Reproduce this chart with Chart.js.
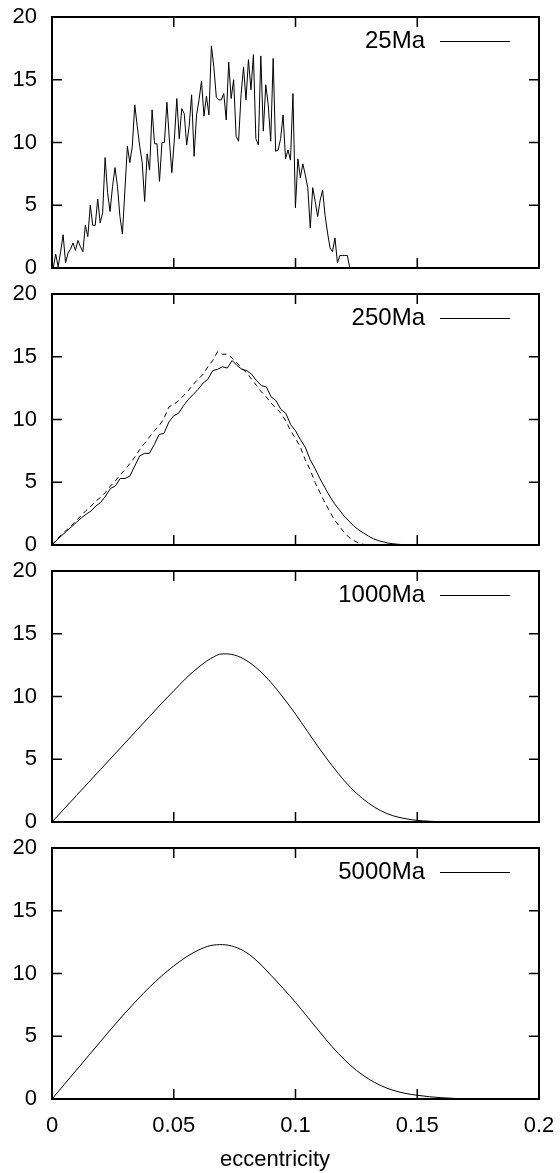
<!DOCTYPE html>
<html>
<head>
<meta charset="utf-8">
<script src="https://cdn.jsdelivr.net/npm/chart.js@4.4.0/dist/chart.umd.min.js"></script>
<style>
  body { margin: 0; background: #fff; }
  #wrap { position: relative; width: 560px; height: 1173px; }
  #wrap canvas { position: absolute; left: 0; }
</style>
</head>
<body>
<div id="wrap">
  <canvas id="p25" width="560" height="279" style="top:3px"></canvas>
  <canvas id="p250" width="560" height="279" style="top:280px"></canvas>
  <canvas id="p1000" width="560" height="279" style="top:557px"></canvas>
  <canvas id="p5000" width="560" height="339" style="top:834px"></canvas>
</div>
<script>
const ageLabels = ['25Ma', '250Ma', '1000Ma', '5000Ma'];
const xTitle = 'eccentricity';
const xTicks = [0, 0.05, 0.1, 0.15, 0.2];
const yTicks = [0, 5, 10, 15, 20];

// 25 Ma histogram (fine bins)
const bin25Start = 0.0005;
const bin25Width = 0.001015;
const counts25 = [
  0, 1.1, 0.1, 1.3, 2.65, 0.4, 1.2, 1.5, 2.0, 1.4,
  2.2, 1.7, 1.3, 3.4, 2.5, 5.0, 3.4, 3.4, 5.5, 3.6,
  4.4, 8.8, 6.0, 4.5, 6.5, 8.0, 6.5, 4.1, 2.7, 6.2,
  9.7, 8.4, 9.7, 13.0, 11.3, 9.7, 8.4, 5.3, 9.1, 7.8,
  12.6, 9.9, 9.9, 6.9, 10.0, 10.0, 13.2, 10.2, 7.6, 10.2,
  13.5, 10.3, 12.7, 12.3, 9.8, 11.3, 13.8, 8.9, 12.2, 13.4,
  14.9, 12.1, 13.7, 12.2, 17.7, 16.0, 13.6, 13.4, 13.4, 13.9,
  11.8, 16.4, 13.5, 15.0, 10.5, 10.1, 13.8, 16.0, 13.4, 16.6,
  14.2, 17.0, 10.3, 9.8, 16.9, 10.9, 14.6, 13.0, 10.1, 16.7,
  9.3, 9.4, 10.3, 12.2, 8.7, 9.4, 8.6, 13.9, 4.8, 8.7,
  7.2, 8.3, 7.4, 6.4, 3.2, 6.4, 5.3, 4.1, 5.4, 6.2,
  4.2, 2.8, 1.6, 1.3, 2.4, 0.4, 1.0, 1.0, 1.0, 1.0,
  0
];

// 250 Ma: simulation (solid) and model (dashed)
const bin250Width = 0.002;
const counts250 = [
  0, 0.4, 0.75, 1.1, 1.45, 1.8, 2.15, 2.45, 2.7, 3.1,
  3.4, 3.9, 4.5, 4.7, 5.3, 5.3, 5.5, 6.3, 7.1, 7.3,
  7.3, 8.0, 8.8, 8.9, 9.8, 10.3, 10.5, 11.1, 11.6, 12.0,
  12.4, 12.9, 13.2, 13.9, 14.0, 14.2, 14.1, 14.7, 14.3, 14.0,
  13.9, 13.6, 13.1, 12.7, 12.6, 11.8, 11.5, 10.8, 10.5, 9.6,
  9.1, 8.4, 7.8, 6.8, 6.1, 5.3, 4.6, 3.9, 3.3, 2.8,
  2.3, 1.9, 1.5, 1.2, 0.95, 0.7, 0.5, 0.35, 0.25, 0.15,
  0.1, 0.06, 0.03, 0.02, 0.01, 0
];
const model250 = [
  0, 0.45, 0.85, 1.2, 1.55, 1.95, 2.35, 2.75, 3.1, 3.5,
  3.8, 4.2, 4.7, 5.1, 5.6, 6.0, 6.5, 7.0, 7.6, 8.1,
  8.6, 9.1, 9.5, 10.1, 11.0, 11.2, 11.5, 11.9, 12.3, 12.8,
  13.2, 13.6, 14.2, 14.7, 15.4, 15.2, 15.2, 14.9, 14.5, 14.1,
  13.7, 13.2, 12.7, 12.2, 11.8, 11.3, 10.9, 10.5, 9.9, 9.1,
  8.5, 7.8, 6.8, 6.0, 5.0, 4.2, 3.4, 2.7, 2.0, 1.5,
  1.0, 0.6, 0.35, 0.15, 0.05, 0
];

// 1000 Ma and 5000 Ma (coarser sampling of smooth curves)
const binWidthLate = 0.005;
const counts1000 = [
  0, 1.05, 2.1, 3.15, 4.2, 5.25, 6.3, 7.35, 8.4, 9.45,
  10.45, 11.45, 12.3, 13.0, 13.4, 13.3, 12.85, 12.1, 11.1, 9.9,
  8.6, 7.2, 5.8, 4.5, 3.3, 2.3, 1.5, 0.9, 0.5, 0.27,
  0.13, 0.06, 0.02, 0.01, 0
];
const counts5000 = [
  0, 1.15, 2.3, 3.45, 4.6, 5.75, 6.85, 7.9, 8.9, 9.8,
  10.6, 11.3, 11.85, 12.22, 12.3, 12.12, 11.65, 10.85, 9.85, 8.8,
  7.7, 6.52, 5.33, 4.18, 3.15, 2.28, 1.6, 1.07, 0.7, 0.45,
  0.3, 0.18, 0.1, 0.05, 0
];

const FONT = "'Liberation Sans', Arial, Helvetica, sans-serif";

function toPoints(start, step, values) {
  return values.map((v, i) => ({ x: start + i * step, y: v }));
}

// labels may overhang the plot box, so drop the padding Chart.js reserves for them
function noLabelPadding(s) {
  s.paddingTop = 0;
  s.paddingBottom = 0;
  s.paddingLeft = 0;
  s.paddingRight = 0;
}

// frame, inward ticks, key and x title
const framePlugin = {
  id: 'frame',
  afterDatasetsDraw(chart, args, opts) {
    const { ctx, chartArea: a, scales: { x, y } } = chart;
    ctx.save();
    ctx.strokeStyle = '#000';
    ctx.lineWidth = 1.5;
    ctx.beginPath();
    xTicks.slice(1, -1).forEach(v => {
      const px = x.getPixelForValue(v);
      ctx.moveTo(px, a.bottom); ctx.lineTo(px, a.bottom - 10);
      ctx.moveTo(px, a.top); ctx.lineTo(px, a.top + 10);
    });
    yTicks.slice(1, -1).forEach(v => {
      const py = y.getPixelForValue(v);
      ctx.moveTo(a.left, py); ctx.lineTo(a.left + 10, py);
      ctx.moveTo(a.right, py); ctx.lineTo(a.right - 10, py);
    });
    ctx.stroke();
    ctx.lineWidth = 2;
    ctx.strokeRect(a.left, a.top, a.right - a.left, a.bottom - a.top);

    // key: label + line sample
    const ky = Math.round(a.top + 24) + 0.5;
    ctx.fillStyle = '#000';
    ctx.font = `24px ${FONT}`;
    ctx.textAlign = 'right';
    ctx.textBaseline = 'middle';
    ctx.fillText(chart.data.datasets[0].label, a.right - 114, ky);
    ctx.lineWidth = 1;
    ctx.beginPath();
    ctx.moveTo(a.right - 99, ky);
    ctx.lineTo(a.right - 29, ky);
    ctx.stroke();

    if (opts.xTitle) {
      ctx.font = `22px ${FONT}`;
      ctx.textAlign = 'center';
      ctx.fillText(opts.xTitle, chart.width / 2 - 5, chart.height - 13);
    }
    ctx.restore();
  }
};

function makePanel(canvasId, datasets, showX) {
  const canvas = document.getElementById(canvasId);
  if (!canvas) return;
  const ctx = canvas.getContext('2d');

  new Chart(ctx, {
    type: 'line',
    data: { datasets },
    options: {
      responsive: false,
      animation: false,
      events: [],
      layout: {
        autoPadding: false,
        padding: { top: 14, bottom: showX ? 0 : 14, left: 0, right: 21 }
      },
      plugins: {
        legend: { display: false },
        tooltip: { enabled: false },
        frame: { xTitle: showX ? xTitle : null }
      },
      elements: { point: { radius: 0 } },
      scales: {
        x: {
          type: 'linear',
          min: 0,
          max: 0.2,
          display: showX,
          afterBuildTicks: s => { s.ticks = xTicks.map(v => ({ value: v })); },
          afterFit: s => {
            noLabelPadding(s);
            if (showX) s.height = 74;
          },
          grid: { display: false, drawTicks: false },
          border: { display: false },
          ticks: {
            padding: 14,
            color: '#000',
            maxRotation: 0,
            autoSkip: false,
            font: { size: 22, family: FONT },
            callback: v => String(+v.toFixed(2))
          }
        },
        y: {
          type: 'linear',
          min: 0,
          max: 20,
          afterBuildTicks: s => { s.ticks = yTicks.map(v => ({ value: v })); },
          afterFit: s => {
            noLabelPadding(s);
            s.width = 52;
          },
          grid: { display: false, drawTicks: false },
          border: { display: false },
          ticks: {
            padding: 15,
            color: '#000',
            font: { size: 22, family: FONT },
            callback: v => String(v)
          }
        }
      }
    },
    plugins: [framePlugin]
  });
}

function solid(label, points) {
  return { label, data: points, borderColor: '#000', borderWidth: 1, tension: 0, fill: false };
}

makePanel('p25', [solid(ageLabels[0], toPoints(bin25Start, bin25Width, counts25))], false);

makePanel('p250', [
  solid(ageLabels[1], toPoints(0, bin250Width, counts250)),
  { label: 'model', data: toPoints(0, bin250Width, model250), borderColor: '#000',
    borderWidth: 1, borderDash: [5, 4], tension: 0, fill: false }
], false);

makePanel('p1000', [
  { ...solid(ageLabels[2], toPoints(0, binWidthLate, counts1000)), cubicInterpolationMode: 'monotone' }
], false);

makePanel('p5000', [
  { ...solid(ageLabels[3], toPoints(0, binWidthLate, counts5000)), cubicInterpolationMode: 'monotone' }
], true);
</script>
</body>
</html>
